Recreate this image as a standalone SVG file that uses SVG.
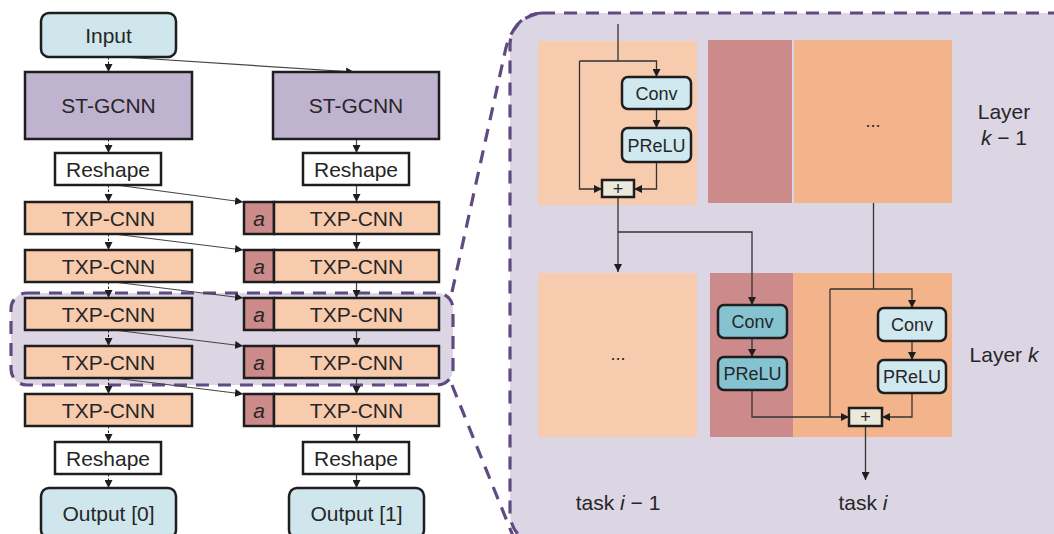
<svg xmlns="http://www.w3.org/2000/svg" width="1054" height="534" viewBox="0 0 1054 534">
  <defs>
    <style>
      text { font-family: "Liberation Sans", Arial, sans-serif; fill: #262626; text-anchor: middle; }
      .lbl { font-size: 21px; }
      .sm { font-size: 18px; }
      .it { font-style: italic; }
      .box { stroke: #1e1e1e; stroke-width: 2.5; }
      .io { fill: #cfe6ed; }
      .gc { fill: #bfb3cf; }
      .txp { fill: #f8cbad; }
      .ad { fill: #cd8a8b; }
      .rs { fill: #ffffff; }
      .cv { fill: #d0e8ef; }
      .cvd { fill: #85c3d1; }
      .add { fill: #ebe8dc; }
      .region { fill: #dcd5e4; stroke: #5f4b82; stroke-width: 3.2; stroke-dasharray: 13 9; }
      .zoomline { fill: none; stroke: #5f4b82; stroke-width: 3.2; stroke-dasharray: 13 9; }
      .dash { stroke: #1e1e1e; stroke-width: 1; stroke-dasharray: 2.5 2; fill: none; }
      .solid { stroke: #444; stroke-width: 1.2; fill: none; }
      .wire { stroke: #333; stroke-width: 1.3; fill: none; }
    </style>
    <marker id="ah" viewBox="0 0 10 10" refX="10" refY="5" markerWidth="8" markerHeight="8" markerUnits="userSpaceOnUse" orient="auto">
      <path d="M0,0 L10,5 L0,10 z" fill="#1e1e1e"/>
    </marker>
  </defs>

  <!-- zoomed detail panel and the highlighted pair of layers -->
  <g id="zoom-panel">
    <rect class="region" x="510" y="13" width="580" height="532" rx="32"/>
    <path class="zoomline" d="M452,292 L505,52 Q512,18 540,13"/>
    <path class="zoomline" d="M452,385 L513,536"/>
  </g>
  <g id="highlight">
    <rect class="region" x="11" y="293" width="442" height="92" rx="16"/>
  </g>

  <!-- task blocks inside the detail panel -->
  <g id="blocks">
    <rect x="538" y="41" width="159" height="164" fill="#f7cbad"/>
    <rect x="708" y="40" width="84" height="163" fill="#cd8a8b"/>
    <rect x="794" y="40" width="158" height="163" fill="#f3b48c"/>
    <rect x="538" y="273" width="159" height="164" fill="#f7cbad"/>
    <rect x="710" y="273" width="83" height="164" fill="#cd8a8b"/>
    <rect x="793" y="273" width="159" height="164" fill="#f3b48c"/>
  </g>

  <!-- connectors -->
  <g id="connectors">
    <!-- left column (task 0) -->
    <path class="dash" marker-end="url(#ah)" d="M108.5,57 V72"/>
    <path class="dash" marker-end="url(#ah)" d="M108.5,139 V153"/>
    <path class="dash" marker-end="url(#ah)" d="M108.5,185 V202"/>
    <path class="dash" marker-end="url(#ah)" d="M108.5,234 V250"/>
    <path class="dash" marker-end="url(#ah)" d="M108.5,282 V298"/>
    <path class="dash" marker-end="url(#ah)" d="M108.5,330 V346"/>
    <path class="dash" marker-end="url(#ah)" d="M108.5,378 V394"/>
    <path class="dash" marker-end="url(#ah)" d="M108.5,426 V442"/>
    <path class="dash" marker-end="url(#ah)" d="M108.5,474 V488"/>
    <!-- right column (task 1) -->
    <path class="solid" marker-end="url(#ah)" d="M356.5,139 V153"/>
    <path class="solid" marker-end="url(#ah)" d="M356.5,185 V202"/>
    <path class="solid" marker-end="url(#ah)" d="M356.5,234 V250"/>
    <path class="solid" marker-end="url(#ah)" d="M356.5,282 V298"/>
    <path class="solid" marker-end="url(#ah)" d="M356.5,330 V346"/>
    <path class="solid" marker-end="url(#ah)" d="M356.5,378 V394"/>
    <path class="solid" marker-end="url(#ah)" d="M356.5,426 V442"/>
    <path class="solid" marker-end="url(#ah)" d="M356.5,474 V488"/>
    <!-- lateral links from task 0 to task 1 -->
    <path class="solid" marker-end="url(#ah)" d="M122,57 L354,72"/>
    <path class="solid" marker-end="url(#ah)" d="M116,185 L243,202"/>
    <path class="solid" marker-end="url(#ah)" d="M114,234 L243,250"/>
    <path class="solid" marker-end="url(#ah)" d="M114,282 L243,298"/>
    <path class="solid" marker-end="url(#ah)" d="M114,330 L243,346"/>
    <path class="solid" marker-end="url(#ah)" d="M114,378 L243,394"/>

    <!-- layer k-1, task i-1 residual block -->
    <path class="wire" d="M618,24 V61"/>
    <path class="wire" marker-end="url(#ah)" d="M579.5,61 H656.5 V77"/>
    <path class="wire" marker-end="url(#ah)" d="M579.5,61 V189 H602"/>
    <path class="wire" marker-end="url(#ah)" d="M656.5,109 V128"/>
    <path class="wire" marker-end="url(#ah)" d="M656.5,162 V189 H634"/>
    <path class="wire" marker-end="url(#ah)" d="M618,197 V272"/>
    <path class="wire" marker-end="url(#ah)" d="M618,232 H752 V305"/>
    <!-- layer k, task i -->
    <path class="wire" d="M873.5,203 V289"/>
    <path class="wire" marker-end="url(#ah)" d="M830,289 H912 V308"/>
    <path class="wire" d="M830,289 V417"/>
    <path class="wire" marker-end="url(#ah)" d="M752,338 V357"/>
    <path class="wire" marker-end="url(#ah)" d="M752,390 V417 H849"/>
    <path class="wire" marker-end="url(#ah)" d="M912,341 V360"/>
    <path class="wire" marker-end="url(#ah)" d="M912,393 V417 H882"/>
    <path class="wire" marker-end="url(#ah)" d="M865.5,426 V480"/>
  </g>

  <!-- task 0 column -->
  <g id="input"><rect class="box io" x="41" y="13" width="135" height="44" rx="8"/><text class="lbl" x="108.5" y="42.5">Input</text></g>
  <g id="stgcnn-0"><rect class="box gc" x="25" y="72" width="167" height="67"/><text class="lbl" x="108.5" y="113">ST-GCNN</text></g>
  <g id="reshape-0a"><rect class="box rs" x="55" y="153" width="106" height="32"/><text class="lbl" x="108" y="176.5">Reshape</text></g>
  <g id="txp-0-1"><rect class="box txp" x="25" y="202" width="167" height="32"/><text class="lbl" x="108.5" y="225.5">TXP-CNN</text></g>
  <g id="txp-0-2"><rect class="box txp" x="25" y="250" width="167" height="32"/><text class="lbl" x="108.5" y="273.5">TXP-CNN</text></g>
  <g id="txp-0-3"><rect class="box txp" x="25" y="298" width="167" height="32"/><text class="lbl" x="108.5" y="321.5">TXP-CNN</text></g>
  <g id="txp-0-4"><rect class="box txp" x="25" y="346" width="167" height="32"/><text class="lbl" x="108.5" y="369.5">TXP-CNN</text></g>
  <g id="txp-0-5"><rect class="box txp" x="25" y="394" width="167" height="32"/><text class="lbl" x="108.5" y="417.5">TXP-CNN</text></g>
  <g id="reshape-0b"><rect class="box rs" x="55" y="442" width="106" height="32"/><text class="lbl" x="108" y="465.5">Reshape</text></g>
  <g id="output-0"><rect class="box io" x="41" y="488" width="135" height="50" rx="8"/><text class="lbl" x="108.5" y="521">Output [0]</text></g>

  <!-- task 1 column -->
  <g id="stgcnn-1"><rect class="box gc" x="273" y="72" width="166" height="67"/><text class="lbl" x="356" y="113">ST-GCNN</text></g>
  <g id="reshape-1a"><rect class="box rs" x="303" y="153" width="106" height="32"/><text class="lbl" x="356" y="176.5">Reshape</text></g>
  <g id="txp-1-1"><rect class="box ad" x="244" y="202" width="30" height="32"/><rect class="box txp" x="274" y="202" width="165" height="32"/><text class="lbl it" x="259" y="225.5">a</text><text class="lbl" x="356.5" y="225.5">TXP-CNN</text></g>
  <g id="txp-1-2"><rect class="box ad" x="244" y="250" width="30" height="32"/><rect class="box txp" x="274" y="250" width="165" height="32"/><text class="lbl it" x="259" y="273.5">a</text><text class="lbl" x="356.5" y="273.5">TXP-CNN</text></g>
  <g id="txp-1-3"><rect class="box ad" x="244" y="298" width="30" height="32"/><rect class="box txp" x="274" y="298" width="165" height="32"/><text class="lbl it" x="259" y="321.5">a</text><text class="lbl" x="356.5" y="321.5">TXP-CNN</text></g>
  <g id="txp-1-4"><rect class="box ad" x="244" y="346" width="30" height="32"/><rect class="box txp" x="274" y="346" width="165" height="32"/><text class="lbl it" x="259" y="369.5">a</text><text class="lbl" x="356.5" y="369.5">TXP-CNN</text></g>
  <g id="txp-1-5"><rect class="box ad" x="244" y="394" width="30" height="32"/><rect class="box txp" x="274" y="394" width="165" height="32"/><text class="lbl it" x="259" y="417.5">a</text><text class="lbl" x="356.5" y="417.5">TXP-CNN</text></g>
  <g id="reshape-1b"><rect class="box rs" x="303" y="442" width="106" height="32"/><text class="lbl" x="356" y="465.5">Reshape</text></g>
  <g id="output-1"><rect class="box io" x="289" y="488" width="135" height="50" rx="8"/><text class="lbl" x="356.5" y="521">Output [1]</text></g>

  <!-- detail: layer k-1 -->
  <g id="conv-k1"><rect class="box cv" x="622" y="77" width="69" height="32" rx="6"/><text class="sm" x="656.5" y="99.5">Conv</text></g>
  <g id="prelu-k1"><rect class="box cv" x="622" y="128" width="69" height="34" rx="6"/><text class="sm" x="656.5" y="151.5">PReLU</text></g>
  <g id="add-k1"><rect class="box add" x="602" y="180" width="32" height="17"/><text class="sm" x="618" y="194.5">+</text></g>
  <g id="more-k1"><text class="sm" x="873" y="127">...</text></g>
  <g id="label-k1"><text class="lbl" x="1004" y="119">Layer</text><text class="lbl" x="1004" y="145"><tspan class="it">k</tspan> − 1</text></g>

  <!-- detail: layer k -->
  <g id="more-k"><text class="sm" x="618" y="360">...</text></g>
  <g id="conv-lat"><rect class="box cvd" x="718" y="305" width="69" height="33" rx="6"/><text class="sm" x="752.5" y="328">Conv</text></g>
  <g id="prelu-lat"><rect class="box cvd" x="718" y="357" width="69" height="33" rx="6"/><text class="sm" x="752.5" y="380">PReLU</text></g>
  <g id="conv-k"><rect class="box cv" x="878" y="308" width="68" height="33" rx="6"/><text class="sm" x="912" y="331">Conv</text></g>
  <g id="prelu-k"><rect class="box cv" x="878" y="360" width="68" height="33" rx="6"/><text class="sm" x="912" y="383">PReLU</text></g>
  <g id="add-k"><rect class="box add" x="849" y="408" width="33" height="18"/><text class="sm" x="865.5" y="423">+</text></g>
  <g id="label-k"><text class="lbl" x="1004" y="362">Layer <tspan class="it">k</tspan></text></g>

  <!-- task captions -->
  <g id="task-prev"><text class="lbl" x="618" y="510">task <tspan class="it">i</tspan> − 1</text></g>
  <g id="task-cur"><text class="lbl" x="863" y="510">task <tspan class="it">i</tspan></text></g>
</svg>
